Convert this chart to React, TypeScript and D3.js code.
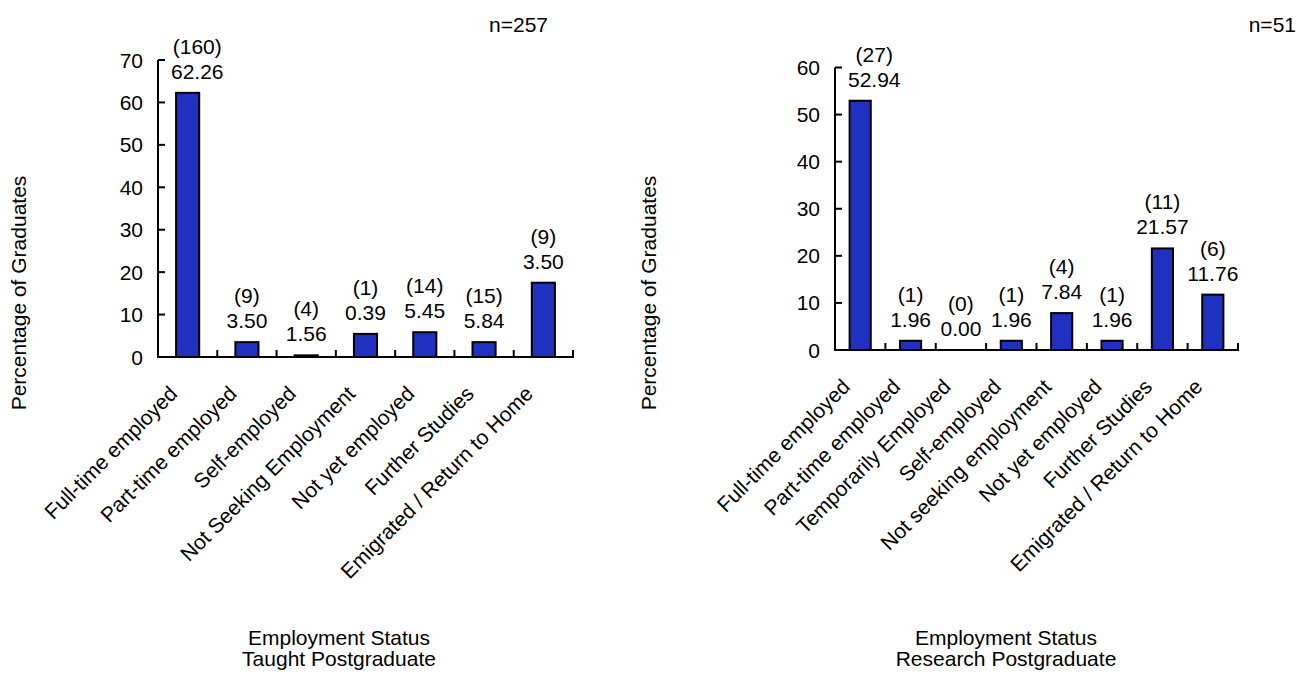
import React from "react";
import * as d3 from "d3";

const leftCategories = [
  "Full-time employed",
  "Part-time employed",
  "Self-employed",
  "Not Seeking Employment",
  "Not yet employed",
  "Further Studies",
  "Emigrated / Return to Home",
];
const leftValues = [62.26, 3.5, 0.39, 5.45, 5.84, 3.5, 17.51];
const leftCounts = ["(160)", "(9)", "(4)", "(1)", "(14)", "(15)", "(9)"];
const leftLabels = ["62.26", "3.50", "1.56", "0.39", "5.45", "5.84", "3.50"];
const leftTicks = [0, 10, 20, 30, 40, 50, 60, 70];

const rightCategories = [
  "Full-time employed",
  "Part-time employed",
  "Temporarily Employed",
  "Self-employed",
  "Not seeking employment",
  "Not yet employed",
  "Further Studies",
  "Emigrated / Return to Home",
];
const rightValues = [52.94, 1.96, 0.0, 1.96, 7.84, 1.96, 21.57, 11.76];
const rightCounts = ["(27)", "(1)", "(0)", "(1)", "(4)", "(1)", "(11)", "(6)"];
const rightLabels = ["52.94", "1.96", "0.00", "1.96", "7.84", "1.96", "21.57", "11.76"];
const rightTicks = [0, 10, 20, 30, 40, 50, 60];

const FONT = "'Liberation Sans', Arial, sans-serif";
const BAR = "#2030C0";

function approxWidth(s: string, fs: number) {
  let w = 0;
  for (const ch of s) {
    if (ch === "." ) w += 0.278;
    else if (ch === "(" || ch === ")") w += 0.333;
    else w += 0.556;
  }
  return w * fs;
}

type PanelProps = {
  categories: string[];
  values: number[];
  counts: string[];
  labels: string[];
  ticks: number[];
  x0: number;
  x1: number;
  yTop: number;
  y0: number;
  pad: number;
  nText: string;
  nRight: number;
  yTitleX: number;
  xTitleX: number;
  subtitle: string;
};

function Panel(p: PanelProps) {
  const maxV = p.ticks[p.ticks.length - 1];
  const x = d3
    .scaleBand<string>()
    .domain(p.categories)
    .range([p.x0, p.x1])
    .paddingInner(p.pad)
    .paddingOuter(p.pad / 2);
  const y = d3.scaleLinear().domain([0, maxV]).range([p.y0, p.yTop]);
  const step = x.step();
  const fs = 21;
  return (
    <g fontFamily={FONT} fill="#000">
      <text x={p.nRight} y={32} fontSize={fs} textAnchor="end">
        {p.nText}
      </text>
      {p.categories.map((c, i) => {
        const v = p.values[i];
        const bx = x(c)!;
        const top = y(v);
        const cx = bx + x.bandwidth() / 2;
        const lw = Math.max(approxWidth(p.counts[i], fs), approxWidth(p.labels[i], fs));
        const lx = Math.max(cx, p.x0 + 13 + lw / 2);
        return (
          <g key={c}>
            {v > 0 && (
              <rect
                x={bx}
                y={top}
                width={x.bandwidth()}
                height={Math.max(p.y0 - top, 0)}
                fill={BAR}
                stroke="#000"
                strokeWidth={2}
              />
            )}
            <text x={lx} y={top - 39} fontSize={fs} textAnchor="middle">
              {p.counts[i]}
            </text>
            <text x={lx} y={top - 14} fontSize={fs} textAnchor="middle">
              {p.labels[i]}
            </text>
            <text
              fontSize={fs}
              textAnchor="end"
              transform={`translate(${cx - 9},${p.y0 + 38}) rotate(-45)`}
            >
              {c}
            </text>
          </g>
        );
      })}
      {/* axes */}
      <line x1={p.x0} x2={p.x0} y1={y(maxV)} y2={p.y0 + 1} stroke="#000" strokeWidth={2} />
      <line x1={p.x0 - 1} x2={p.x1 + 1} y1={p.y0} y2={p.y0} stroke="#000" strokeWidth={2} />
      {p.ticks.map((t) => (
        <g key={t}>
          <line x1={p.x0} x2={p.x0 + 7} y1={y(t)} y2={y(t)} stroke="#000" strokeWidth={2} />
          <text x={p.x0 - 15} y={y(t) + 7.5} fontSize={fs} textAnchor="end">
            {t}
          </text>
        </g>
      ))}
      {p.categories.map((c, i) => {
        const tx = p.x0 + step * (i + 1);
        return <line key={"t" + i} x1={tx} x2={tx} y1={p.y0} y2={p.y0 - 7} stroke="#000" strokeWidth={2} />;
      })}
      <text
        fontSize={fs}
        textAnchor="middle"
        transform={`translate(${p.yTitleX},${293}) rotate(-90)`}
      >
        Percentage of Graduates
      </text>
      <text x={p.xTitleX} y={645} fontSize={fs} textAnchor="middle">
        Employment Status
      </text>
      <text x={p.xTitleX} y={666} fontSize={fs} textAnchor="middle">
        {p.subtitle}
      </text>
    </g>
  );
}

export default function App() {
  return (
    <svg
      width={1301}
      height={673}
      style={{ position: "absolute", left: 0, top: 0, background: "#fff" }}
    >
      <rect width={1301} height={673} fill="#fff" />
      <Panel
        categories={leftCategories}
        values={leftValues}
        counts={leftCounts}
        labels={leftLabels}
        ticks={leftTicks}
        x0={158}
        x1={573}
        yTop={60}
        y0={357}
        pad={0.61}
        nText="n=257"
        nRight={548}
        yTitleX={26}
        xTitleX={339}
        subtitle="Taught Postgraduate"
      />
      <Panel
        categories={rightCategories}
        values={rightValues}
        counts={rightCounts}
        labels={rightLabels}
        ticks={rightTicks}
        x0={835}
        x1={1238}
        yTop={67.5}
        y0={350}
        pad={0.58}
        nText="n=51"
        nRight={1296}
        yTitleX={656}
        xTitleX={1006}
        subtitle="Research Postgraduate"
      />
    </svg>
  );
}
